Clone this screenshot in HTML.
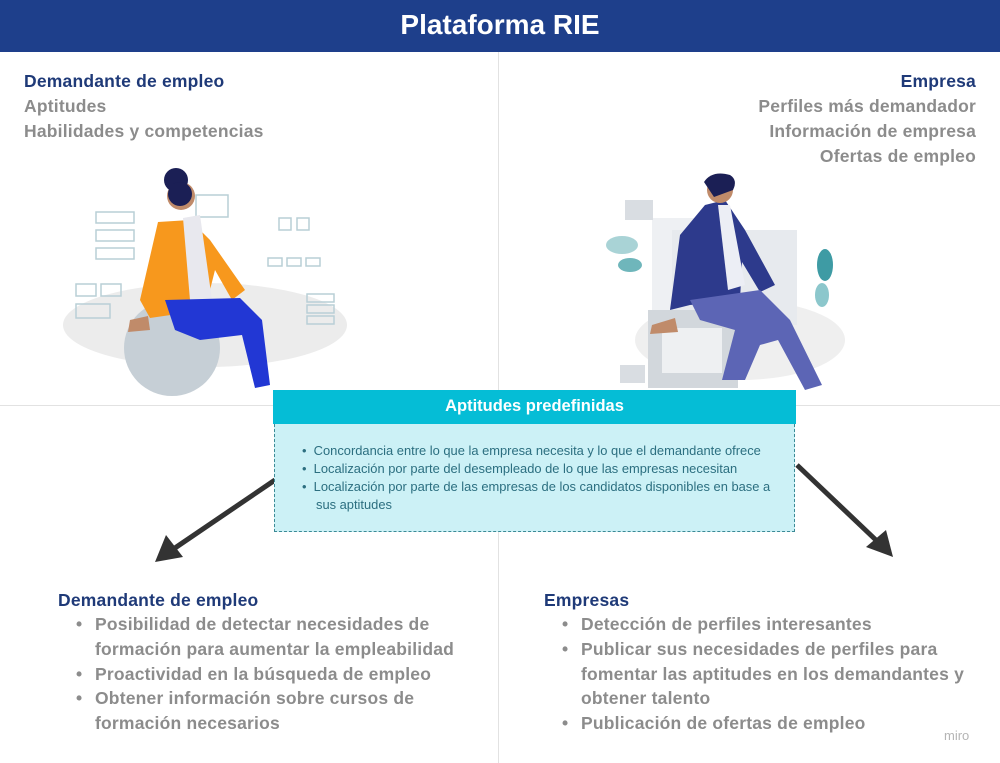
<!DOCTYPE html>
<html><head><meta charset="utf-8"><style>
*{margin:0;padding:0;box-sizing:border-box}
body{width:1000px;height:763px;position:relative;background:#fff;font-family:"Liberation Sans",sans-serif;overflow:hidden}
.t{position:absolute;white-space:nowrap;font-weight:bold;font-size:17.5px;letter-spacing:0.2px}
.h{color:#1f3a78}
.g{color:#8c8c8c}
.s{position:absolute;white-space:nowrap;font-size:12.9px;color:#2c6f80}
</style></head><body>
<div style="position:absolute;left:0;top:0;width:1000px;height:52px;background:#1e3f8b"></div>
<div style="position:absolute;left:0;top:9px;width:1000px;text-align:center;color:#fff;font-weight:bold;font-size:28px">Plataforma RIE</div>
<div style="position:absolute;left:498px;top:52px;width:1px;height:711px;background:#e2e2e2"></div>
<div style="position:absolute;left:0;top:405px;width:1000px;height:1px;background:#e2e2e2"></div>

<div class="t h" style="left:24px;top:71px">Demandante de empleo</div>
<div class="t g" style="left:24px;top:96px">Aptitudes</div>
<div class="t g" style="left:24px;top:121px">Habilidades y competencias</div>

<div class="t h" style="right:24px;top:71px">Empresa</div>
<div class="t g" style="right:24px;top:96px">Perfiles más demandador</div>
<div class="t g" style="right:24px;top:121px">Información de empresa</div>
<div class="t g" style="right:24px;top:146px">Ofertas de empleo</div>

<svg style="position:absolute;left:0;top:0" width="1000" height="763">
<ellipse cx="205" cy="325" rx="142" ry="42" fill="#ececec"/>
<g fill="none" stroke="#b9cfd6" stroke-width="1.5">
<rect x="96" y="212" width="38" height="11"/><rect x="96" y="230" width="38" height="11"/><rect x="96" y="248" width="38" height="11"/>
<rect x="76" y="284" width="20" height="12"/><rect x="101" y="284" width="20" height="12"/><rect x="76" y="304" width="34" height="14"/>
<rect x="196" y="195" width="32" height="22"/><rect x="279" y="218" width="12" height="12"/><rect x="297" y="218" width="12" height="12"/>
<rect x="268" y="258" width="14" height="8"/><rect x="287" y="258" width="14" height="8"/><rect x="306" y="258" width="14" height="8"/>
<rect x="307" y="294" width="27" height="8"/><rect x="307" y="305" width="27" height="8"/><rect x="307" y="316" width="27" height="8"/>
</g>
<circle cx="172" cy="348" r="48" fill="#c6cfd6"/>
<path d="M158 222 L190 220 L210 240 L245 290 L232 300 L215 270 L205 310 L150 318 L140 300 Z" fill="#f7981d"/>
<path d="M183 218 L200 215 L212 300 L190 300 Z" fill="#e8e8ee"/>
<path d="M165 300 L240 298 L262 320 L270 385 L255 388 L242 335 L200 340 L175 330 Z" fill="#2237d4"/>
<circle cx="181" cy="196" r="14" fill="#c08b6a"/>
<circle cx="176" cy="180" r="12" fill="#1b1f55"/><circle cx="180" cy="194" r="12" fill="#1b1f55"/>
<path d="M130 320 L148 316 L150 330 L128 332 Z" fill="#c08b6a"/>
<ellipse cx="740" cy="340" rx="105" ry="40" fill="#efefef"/>
<rect x="652" y="218" width="48" height="145" fill="#eef0f3"/>
<rect x="672" y="230" width="125" height="95" fill="#e7eaee"/>
<rect x="625" y="200" width="28" height="20" fill="#d9dde2"/>
<rect x="648" y="310" width="90" height="78" fill="#d2d7dc"/>
<rect x="662" y="328" width="60" height="45" fill="#eef0f2"/>
<ellipse cx="622" cy="245" rx="16" ry="9" fill="#a9d3d6"/><ellipse cx="630" cy="265" rx="12" ry="7" fill="#6fb6bb"/>
<ellipse cx="825" cy="265" rx="8" ry="16" fill="#3e9ba4"/><ellipse cx="822" cy="295" rx="7" ry="12" fill="#8cc7cc"/>
<rect x="620" y="365" width="25" height="18" fill="#d9dde2"/>
<path d="M705 205 L725 200 L745 230 L775 285 L760 292 L742 262 L740 300 L690 305 L670 310 L680 235 Z" fill="#2d3a8c"/>
<path d="M718 205 L730 205 L745 285 L728 290 Z" fill="#eceef5"/>
<path d="M690 300 L760 290 L790 320 L822 385 L805 390 L778 340 L760 345 L745 380 L722 380 L735 330 L700 320 Z" fill="#5c65b5"/>
<circle cx="720" cy="190" r="13" fill="#c08b6a"/>
<path d="M704 182 Q712 170 730 175 Q738 180 733 190 L714 197 Z" fill="#1b1f55"/>
<path d="M652 325 L675 318 L678 332 L650 334 Z" fill="#c08b6a"/>
<line x1="275" y1="480" x2="172" y2="550" stroke="#333" stroke-width="5"/>
<polygon points="155,562 166,535 183,557" fill="#333"/>
<line x1="797" y1="465" x2="878" y2="542" stroke="#333" stroke-width="5"/>
<polygon points="893,557 866,547 886,530" fill="#333"/>
</svg>

<div style="position:absolute;left:273px;top:390px;width:523px;height:34px;background:#05bdd6"></div>
<div style="position:absolute;left:273px;top:397px;width:523px;text-align:center;color:#fff;font-weight:bold;font-size:16.5px">Aptitudes predefinidas</div>
<div style="position:absolute;left:274px;top:424px;width:521px;height:108px;background:#ccf1f6;border:1.3px dashed #3c8a96;border-top:none"></div>
<div class="s" style="left:302px;top:443px">•&nbsp;&nbsp;Concordancia entre lo que la empresa necesita y lo que el demandante ofrece</div>
<div class="s" style="left:302px;top:461px">•&nbsp;&nbsp;Localización por parte del desempleado de lo que las empresas necesitan</div>
<div class="s" style="left:302px;top:479px">•&nbsp;&nbsp;Localización por parte de las empresas de los candidatos disponibles en base a</div>
<div class="s" style="left:316px;top:497px">sus aptitudes</div>

<div class="t h" style="left:58px;top:590px">Demandante de empleo</div>
<div class="t g" style="left:76px;top:614px">•</div>
<div class="t g" style="left:95px;top:614px">Posibilidad de detectar necesidades de</div>
<div class="t g" style="left:95px;top:639px">formación para aumentar la empleabilidad</div>
<div class="t g" style="left:76px;top:664px">•</div>
<div class="t g" style="left:95px;top:664px">Proactividad en la búsqueda de empleo</div>
<div class="t g" style="left:76px;top:688px">•</div>
<div class="t g" style="left:95px;top:688px">Obtener información sobre cursos de</div>
<div class="t g" style="left:95px;top:713px">formación necesarios</div>

<div class="t h" style="left:544px;top:590px">Empresas</div>
<div class="t g" style="left:562px;top:614px">•</div>
<div class="t g" style="left:581px;top:614px">Detección de perfiles interesantes</div>
<div class="t g" style="left:562px;top:639px">•</div>
<div class="t g" style="left:581px;top:639px">Publicar sus necesidades de perfiles para</div>
<div class="t g" style="left:581px;top:664px">fomentar las aptitudes en los demandantes y</div>
<div class="t g" style="left:581px;top:688px">obtener talento</div>
<div class="t g" style="left:562px;top:713px">•</div>
<div class="t g" style="left:581px;top:713px">Publicación de ofertas de empleo</div>

<div style="position:absolute;left:944px;top:728px;color:#b5b5b5;font-size:13px">miro</div>
</body></html>
